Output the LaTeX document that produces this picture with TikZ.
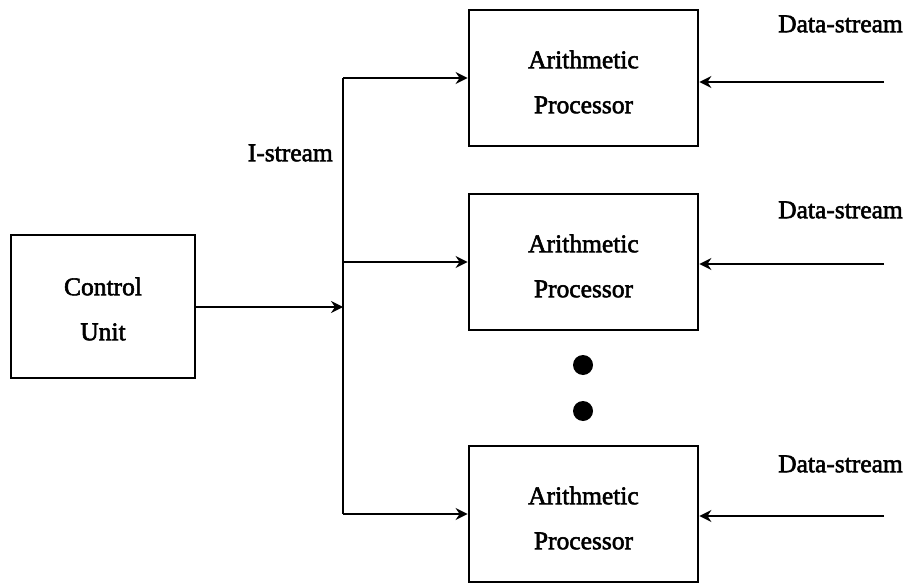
\documentclass[tikz,border=0pt]{standalone}
\usepackage{fontspec}
\newfontfamily\heavyserif{Liberation Serif}[FakeBold=2.2]
\usetikzlibrary{arrows.meta}
\begin{document}
\begin{tikzpicture}[x=1pt,y=-1pt,
  box/.style={draw, line width=2.8pt, inner sep=0pt, minimum width=229pt, minimum height=136pt},
  lbl/.style={font=\heavyserif\fontsize{25.5}{45}\selectfont, align=center, inner sep=0pt},
  conn/.style={line width=2.8pt, -{Stealth[length=12pt,width=12pt,inset=4pt]}},
  line/.style={line width=2.8pt},
  dotmark/.style={circle, fill=black, inner sep=0pt, minimum size=20pt}
]
\useasboundingbox (0,0) rectangle (909,585);

% Control unit
\node[box, minimum width=184pt, minimum height=143pt] (cu) at (103,306.5) {};
\node[lbl] (cut) at (103,309) {Control\\Unit};

% Arithmetic processors
\node[box] (ap1) at (583.5,78) {};
\node[box] (ap2) at (583.5,262) {};
\node[box] (ap3) at (583.5,514) {};
\node[lbl] (ap1t) at (583.5,82) {Arithmetic\\Processor};
\node[lbl] (ap2t) at (583.5,266) {Arithmetic\\Processor};
\node[lbl] (ap3t) at (583.5,518) {Arithmetic\\Processor};

% dots
\node[dotmark] (d1) at (583,365) {};
\node[dotmark] (d2) at (583,411) {};

% I-stream bus
\coordinate (vtop) at (343,78);
\coordinate (vmid) at (343,262);
\coordinate (vbot) at (343,514);
\coordinate (vin) at (343,307);
\draw[line] (vtop) -- (vbot);
\draw[conn] (cu.east |- vin) -- (vin);
\draw[conn] (vtop) -- (ap1.west);
\draw[conn] (vmid) -- (ap2.west);
\draw[conn] (vbot) -- (ap3.west);
\node[lbl, anchor=east] (is) at (333,153) {I-stream};

% Data streams
\coordinate (ds1) at (884,82);
\coordinate (ds2) at (884,264);
\coordinate (ds3) at (884,516);
\draw[conn] (ds1) -- (ds1 -| ap1.east);
\draw[conn] (ds2) -- (ds2 -| ap2.east);
\draw[conn] (ds3) -- (ds3 -| ap3.east);
\node[lbl, anchor=east] (dl1) at (903,24) {Data-stream};
\node[lbl, anchor=east] (dl2) at (903,210) {Data-stream};
\node[lbl, anchor=east] (dl3) at (903,464) {Data-stream};
\end{tikzpicture}
\end{document}
